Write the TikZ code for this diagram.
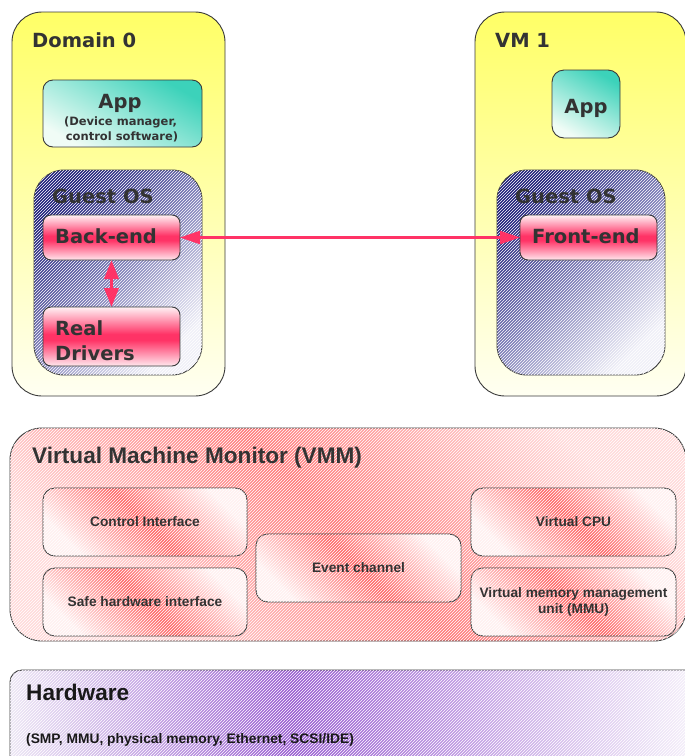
\documentclass[tikz,border=0pt]{standalone}
\usepackage{fontspec}
\setmainfont{DejaVu Sans}
\newfontfamily\libsans{Liberation Sans}
\usetikzlibrary{arrows.meta,patterns}

% palette
\definecolor{txt}{HTML}{333333}
\definecolor{edge}{HTML}{3A3A3A}
\definecolor{ylwtop}{HTML}{FFFF66}
\definecolor{ylwbot}{HTML}{FFFFF2}
\definecolor{teal}{HTML}{3CD2BA}
\definecolor{tealpale}{HTML}{F0FCF6}
\definecolor{navy}{HTML}{1E1E7A}
\definecolor{navymid}{HTML}{7E7EB8}
\definecolor{navypale}{HTML}{F0F0F8}
\definecolor{btnhi}{HTML}{FFF2F5}
\definecolor{btnred}{HTML}{FF3366}
\definecolor{btnlo}{HTML}{FFE8EE}
\definecolor{vmmpale}{HTML}{FFDADA}
\definecolor{vmmred}{HTML}{FF7C7C}
\definecolor{unitpale}{HTML}{FFF0F0}
\definecolor{unitred}{HTML}{FF6868}
\definecolor{hwl}{HTML}{EDE6F5}
\definecolor{hwm}{HTML}{9A5ED2}
\definecolor{hwr}{HTML}{F7F3FB}
\definecolor{linkred}{HTML}{FF3366}

% glossy button: pale top, strong red band a little below the middle
\pgfdeclareverticalshading{btnshade}{100bp}{color(0bp)=(btnlo); color(25bp)=(btnlo); color(47bp)=(btnred); color(52bp)=(btnred); color(75bp)=(btnhi); color(100bp)=(btnhi)}
% hardware band: darkest slightly left of centre
\pgfdeclarehorizontalshading{hwshade}{100bp}{color(0bp)=(hwl); color(25bp)=(hwl); color(45.5bp)=(hwm); color(75bp)=(hwr); color(100bp)=(hwr)}

\tikzset{
  panel/.style={draw=edge, line width=0.9pt, inner sep=0pt, outer sep=0pt, anchor=north west},
  hatch/.style={postaction={fill opacity=#1, pattern=north east lines, pattern color=white}},
  hatch/.default=0.08,
  vmpanel/.style={panel, rounded corners=30pt, top color=ylwtop, bottom color=ylwbot},
  appbox/.style={panel, rounded corners=10pt, top color=teal, bottom color=tealpale, shading angle=-30},
  guestos/.style={panel, rounded corners=30pt, top color=navy, bottom color=navypale, middle color=navymid, shading angle=45, hatch=0.07},
  button/.style={panel, rounded corners=8pt, shading=btnshade},
  vmmbox/.style={panel, rounded corners=32pt, top color=vmmpale, bottom color=vmmpale, middle color=vmmred, shading angle=-45, hatch},
  unitbox/.style={panel, rounded corners=12pt, top color=unitpale, bottom color=unitpale, middle color=unitred, shading angle=-45, hatch},
  hwbox/.style={panel, rounded corners=12pt, shading=hwshade, hatch},
  bigtext/.style={text=txt, inner sep=0pt, font=\fontsize{19.5}{23}\selectfont\bfseries},
  subtext/.style={text=txt, inner sep=0pt, font=\fontsize{11.5}{14}\selectfont\bfseries},
  vmmtitle/.style={text=txt, inner sep=0pt, font=\libsans\fontsize{22.6}{26}\selectfont\bfseries},
  unittext/.style={text=txt, inner sep=0pt, align=center, font=\libsans\fontsize{13.7}{16}\selectfont\bfseries},
  hwtitle/.style={text=black!90, inner sep=0pt, font=\libsans\fontsize{22.6}{26}\selectfont\bfseries},
  hwtext/.style={text=black!90, inner sep=0pt, font=\libsans\fontsize{13.8}{16}\selectfont\bfseries},
  hlink/.style={draw=linkred, line width=2.3pt, {Triangle[length=20pt,width=13pt]}-{Triangle[length=20pt,width=13pt]}},
  vlink/.style={draw=linkred, line width=3.5pt, {Triangle[length=19pt,width=14pt]}-{Triangle[length=19pt,width=14pt]}},
}

\begin{document}
\begin{tikzpicture}[x=1pt, y=-1pt]
\useasboundingbox (0,0) rectangle (685,756);

% ---- Domain 0 ----
\node[vmpanel, minimum width=213pt, minimum height=384pt] (dom0) at (12,12) {};
\node[bigtext, anchor=base west] (dom0title) at (32,47) {Domain 0};
\node[appbox, minimum width=159pt, minimum height=67pt] (app0) at (43,80) {};
\node[bigtext, anchor=base] (app0title) at (120,108) {App};
\node[subtext, anchor=base] (app0line1) at (120.5,125.5) {(Device manager,};
\node[subtext, anchor=base] (app0line2) at (122,140) {control software)};
\node[guestos, minimum width=168pt, minimum height=205pt] (os0) at (34,170) {};
\node[bigtext, anchor=base west] (os0title) at (52,203) {Guest OS};
\node[button, minimum width=137pt, minimum height=45pt] (be) at (43,215) {};
\node[bigtext, anchor=base west] (betext) at (55,243) {Back-end};
\node[button, minimum width=137pt, minimum height=59pt] (rd) at (43,307) {};
\node[bigtext, anchor=base west] (rdline1) at (55,335) {Real};
\node[bigtext, anchor=base west] (rdline2) at (55,360) {Drivers};

% ---- VM 1 ----
\node[vmpanel, minimum width=211pt, minimum height=384pt] (vm1) at (475,12) {};
\node[bigtext, anchor=base west] (vm1title) at (495,47) {VM 1};
\node[appbox, rounded corners=12pt, minimum width=68pt, minimum height=68pt] (app1) at (552,70) {};
\node[bigtext, anchor=base] (app1title) at (586,113) {App};
\node[guestos, minimum width=168pt, minimum height=205pt] (os1) at (497,170) {};
\node[bigtext, anchor=base west] (os1title) at (515,203) {Guest OS};
\node[button, minimum width=137pt, minimum height=45pt] (fe) at (520,215) {};
\node[bigtext, anchor=base west] (fetext) at (532,243) {Front-end};

% ---- split driver links ----
\draw[hlink] (be.east) -- (fe.west);
\draw[vlink] (be.south) -- (rd.north);

% ---- hypervisor ----
\node[vmmbox, minimum width=676pt, minimum height=213pt] (vmm) at (10,428) {};
\node[vmmtitle, anchor=base west] (vmmtitle) at (32,463) {Virtual Machine Monitor (VMM)};
\node[unitbox, minimum width=204pt, minimum height=68pt] (ctl) at (43,488) {};
\node[unittext] (ctltext) at (ctl.center) {Control Interface};
\node[unitbox, minimum width=204pt, minimum height=68pt] (shi) at (43,568) {};
\node[unittext] (shitext) at (shi.center) {Safe hardware interface};
\node[unitbox, minimum width=205pt, minimum height=68pt] (evt) at (256,534) {};
\node[unittext] (evttext) at (evt.center) {Event channel};
\node[unitbox, minimum width=205pt, minimum height=68pt] (vcpu) at (471,488) {};
\node[unittext] (vcputext) at (vcpu.center) {Virtual CPU};
\node[unitbox, minimum width=205pt, minimum height=68pt] (mmu) at (471,568) {};
\node[unittext] (mmutext) at (mmu.center) {Virtual memory management\\unit (MMU)};

% ---- hardware ----
\node[hwbox, minimum width=690pt, minimum height=120pt] (hw) at (10,670) {};
\node[hwtitle, anchor=base west] (hwtitle) at (26,700) {Hardware};
\node[hwtext, anchor=base west] (hwlist) at (26,743) {(SMP, MMU, physical memory, Ethernet, SCSI/IDE)};
\end{tikzpicture}
\end{document}
